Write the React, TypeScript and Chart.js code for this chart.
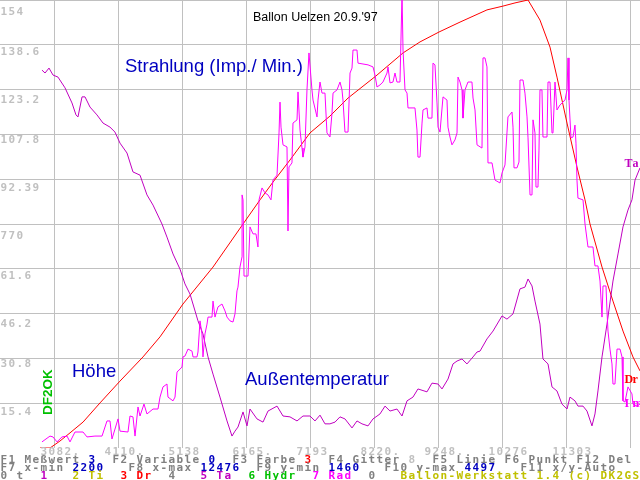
import React, { useEffect, useRef } from "react";
import { Chart, registerables } from "chart.js";

Chart.register(...registerables);

// ---------- axis ----------
const X_MIN = 2200;
const X_MAX = 12476;
const Y_MIN = 0;
const Y_MAX = 154;
const xGridValues = [3082.4, 4110, 5137.6, 6165.2, 7192.8, 8220.4, 9248, 10275.6, 11303.2, 12330.8];
const xTickLabels = ["3082.", "4110.", "5138", "6165.", "7193", "8220.", "9248.", "10276", "11303"];
const yGridValues = [15.4, 30.8, 46.2, 61.6, 77, 92.4, 107.8, 123.2, 138.6, 154];
const yTickLabels = ["15.4", "30.8", "46.2", "61.6", "770", "92.39", "107.8", "123.2", "138.6", "154"];

// ---------- series: Dr (Höhe, red) ----------
const drTime = [2842, 3003, 3163, 3324, 3533, 3806, 4127, 4496, 4769, 5138, 5620, 6102, 6375, 6583, 6856, 7177, 7498, 7788, 8237, 8671, 8944, 9249, 9586, 10019, 10276, 10469, 10678, 10870, 11031, 11143, 11304, 11464, 11593, 11673, 11866, 12042, 12203, 12363, 12476];
const drValue = [0, 0, 2.4, 5.2, 8.9, 15.5, 23.0, 31.3, 38.2, 49.5, 62.2, 77.0, 85.3, 91.4, 99.0, 108.3, 114.1, 120.3, 127.9, 135.8, 139.6, 143.0, 146.4, 150.6, 151.9, 153.0, 154.0, 147.1, 137.8, 127.5, 111.7, 96.6, 85.3, 77.0, 62.2, 50.5, 40.2, 31.3, 26.5];

// ---------- series: Ta (Außentemperatur, purple) ----------
const taTime = [2874, 2923, 2987, 3051, 3131, 3244, 3356, 3420, 3452, 3517, 3565, 3645, 3757, 3854, 3966, 4046, 4127, 4239, 4335, 4448, 4560, 4657, 4801, 4881, 4978, 5090, 5170, 5251, 5379, 5459, 5540, 5620, 5732, 5845, 5925, 5973, 6021, 6102, 6166, 6214, 6326, 6423, 6503, 6648, 6744, 6856, 6969, 7065, 7177, 7258, 7338, 7418, 7498, 7579, 7659, 7739, 7852, 7932, 8012, 8109, 8189, 8301, 8382, 8462, 8574, 8655, 8735, 8831, 8911, 9056, 9136, 9233, 9297, 9393, 9473, 9538, 9618, 9698, 9795, 9859, 9907, 10019, 10116, 10260, 10340, 10437, 10549, 10629, 10678, 10742, 10790, 10870, 10918, 10999, 11063, 11143, 11223, 11304, 11352, 11432, 11480, 11561, 11625, 11705, 11753, 11801, 11866, 11946, 12042, 12123, 12203, 12283, 12347, 12396, 12476];
const taValue = [129.9, 128.9, 130.6, 128.2, 127.5, 123.8, 118.6, 114.5, 113.8, 120.7, 120.7, 117.2, 114.5, 111.7, 110.3, 108.6, 104.8, 101.4, 94.9, 93.8, 87.0, 83.5, 77.0, 72.5, 66.7, 61.5, 56.4, 52.9, 43.7, 39.2, 31.3, 25.4, 17.5, 9.3, 4.1, 5.8, 7.2, 12.4, 7.6, 13.4, 10.0, 8.9, 12.7, 14.4, 11.0, 10.7, 9.3, 11.0, 11.0, 9.3, 11.3, 8.3, 8.3, 8.9, 10.7, 10.0, 6.9, 9.3, 8.3, 7.6, 10.0, 11.7, 14.4, 12.7, 13.4, 11.0, 16.2, 17.5, 20.3, 19.3, 22.3, 22.0, 20.3, 23.7, 28.9, 29.9, 30.6, 28.9, 31.3, 33.0, 33.3, 37.5, 40.2, 45.4, 44.3, 46.1, 54.7, 55.3, 58.1, 55.7, 50.5, 42.6, 30.6, 28.9, 21.0, 19.6, 15.1, 13.4, 17.5, 16.2, 14.4, 14.4, 12.7, 7.6, 11.7, 19.6, 31.3, 42.6, 57.4, 66.7, 76.0, 81.8, 85.3, 92.1, 96.3];

// ---------- series: Rad (Strahlung, magenta) ----------
const radTime = [2874, 3003, 3051, 3115, 3195, 3276, 3324, 3404, 3533, 3597, 3725, 3838, 3918, 3966, 3998, 4046, 4095, 4127, 4255, 4287, 4335, 4368, 4416, 4448, 4512, 4560, 4657, 4737, 4769, 4817, 4881, 4897, 4978, 5010, 5042, 5122, 5138, 5170, 5219, 5283, 5299, 5363, 5379, 5411, 5443, 5459, 5491, 5524, 5540, 5604, 5620, 5652, 5700, 5764, 5813, 5845, 5893, 5941, 5973, 6005, 6021, 6053, 6086, 6087, 6102, 6118, 6182, 6214, 6262, 6310, 6342, 6359, 6407, 6455, 6503, 6551, 6583, 6648, 6680, 6696, 6712, 6744, 6808, 6824, 6840, 6888, 6904, 6969, 6985, 7017, 7049, 7065, 7097, 7129, 7161, 7209, 7226, 7290, 7306, 7338, 7370, 7418, 7450, 7498, 7531, 7547, 7611, 7659, 7691, 7707, 7739, 7788, 7820, 7852, 7868, 7932, 7948, 8109, 8189, 8221, 8253, 8301, 8349, 8414, 8430, 8462, 8510, 8542, 8574, 8622, 8655, 8671, 8703, 8735, 8751, 8863, 8895, 8911, 8944, 8976, 8992, 9056, 9072, 9136, 9152, 9184, 9217, 9233, 9265, 9313, 9377, 9393, 9425, 9457, 9505, 9538, 9554, 9586, 9618, 9634, 9666, 9714, 9778, 9795, 9827, 9859, 9939, 9955, 9987, 10019, 10035, 10100, 10148, 10228, 10260, 10308, 10340, 10356, 10421, 10437, 10453, 10501, 10533, 10549, 10597, 10629, 10662, 10678, 10710, 10742, 10758, 10774, 10790, 10806, 10838, 10854, 10870, 10902, 10918, 10983, 10999, 11031, 11063, 11079, 11111, 11143, 11191, 11272, 11304, 11320, 11336, 11368, 11400, 11432, 11448, 11464, 11480, 11561, 11593, 11641, 11721, 11753, 11801, 11834, 11866, 11882, 11930, 11946, 11962, 11994, 12026, 12042, 12074, 12107, 12155, 12187, 12203, 12235, 12283, 12347, 12363, 12428, 12476];
const radValue = [2.1, 4.1, 3.8, 2.1, 3.8, 4.1, 2.1, 5.5, 5.5, 3.8, 4.1, 4.1, 9.3, 9.3, 3.1, 6.5, 10.0, 5.8, 5.5, 11.0, 10.7, 4.1, 14.1, 11.0, 15.1, 11.7, 13.4, 13.4, 17.5, 21.0, 22.0, 17.5, 16.2, 17.5, 26.1, 27.8, 31.3, 31.6, 34.0, 33.3, 31.3, 31.3, 33.0, 43.7, 39.2, 31.3, 39.2, 42.6, 45.0, 45.0, 50.5, 45.0, 48.5, 49.5, 47.1, 45.0, 43.7, 43.3, 46.1, 54.0, 55.3, 62.2, 65.7, 87.0, 85.3, 59.1, 59.1, 76.0, 73.6, 73.6, 69.1, 85.3, 89.4, 87.7, 87.0, 85.3, 92.1, 93.8, 108.3, 118.9, 110.3, 104.2, 103.5, 74.6, 96.6, 98.0, 111.7, 112.8, 122.4, 109.3, 103.1, 100.0, 103.5, 123.1, 135.8, 123.1, 119.6, 113.8, 119.6, 125.8, 122.0, 122.0, 108.3, 106.9, 115.2, 122.0, 123.1, 125.8, 123.1, 119.6, 108.6, 108.6, 128.9, 130.6, 136.8, 136.8, 132.3, 131.7, 131.0, 128.2, 124.1, 124.8, 125.8, 128.9, 131.0, 125.5, 125.8, 128.9, 125.8, 125.8, 156, 136.8, 123.1, 122.0, 116.9, 116.9, 109.3, 100.0, 100.0, 111.7, 116.2, 116.9, 113.4, 113.4, 132.3, 131.7, 118.6, 110.3, 108.6, 120.7, 119.6, 110.3, 106.9, 104.2, 105.9, 108.3, 127.5, 125.8, 123.1, 113.4, 123.1, 125.8, 125.8, 120.3, 116.2, 104.2, 103.1, 134.1, 134.1, 131.0, 98.0, 98.0, 92.1, 91.1, 94.5, 97.3, 108.3, 113.8, 115.5, 110.3, 96.3, 96.3, 98.3, 126.5, 126.5, 122.0, 113.8, 106.6, 87.0, 87.0, 112.8, 112.8, 108.3, 89.7, 89.7, 102.4, 123.1, 123.1, 106.9, 106.9, 125.8, 125.8, 108.3, 108.3, 125.8, 116.2, 117.9, 119.6, 123.1, 134.1, 119.6, 106.6, 106.9, 111.0, 104.8, 92.1, 85.9, 85.3, 77.0, 69.1, 69.1, 62.6, 62.6, 57.4, 45.0, 55.7, 55.7, 47.1, 40.2, 34.0, 28.9, 22.0, 22.0, 34.0, 34.0, 31.3, 16.2, 15.8, 21.0, 18.6, 15.1, 14.4, 15.1];

// ---------- texts ----------
const chartTitle = "Ballon Uelzen 20.9.'97";
const radCaption = "Strahlung (Imp./ Min.)";
const heightCaption = "Höhe";
const tempCaption = "Außentemperatur";
const callsign = "DF2OK";
const endLabels = ["Im", "Ta", "Dr"]; // same order as datasets

const C = {
  grid: "#c0c0c0",
  tick: "#c0c0c0",
  gray: "#808080",
  blue: "#0000c0",
  red: "#ff0000",
  purple: "#c000c0",
  magenta: "#ff00ff",
  olive: "#c0c000",
  green: "#00c000",
};

type Seg = [string, string];
const statusRows: Seg[][] = [
  [["F1 Meßwert ", C.gray], ["3", C.blue], ["  F2 Variable ", C.gray], ["0", C.blue], ["  F3 Farbe ", C.gray], ["3", C.red], ["  F4 Gitter ", C.gray], ["8", C.grid], ["  F5 Linie F6 Punkt F12 Del", C.gray]],
  [["F7 x-min ", C.gray], ["2200", C.blue], ["   F8 x-max ", C.gray], ["12476", C.blue], ["  F9 y-min ", C.gray], ["1460", C.blue], ["   F10 y-max ", C.gray], ["4497", C.blue], ["   F11 x/y-Auto", C.gray]],
  [["0 t  ", C.gray], ["1", C.purple], ["   ", C.gray], ["2 Ti", C.olive], ["  ", C.gray], ["3 Dr", C.red], ["  4   ", C.gray], ["5 Ta", C.purple], ["  ", C.gray], ["6 Hydr", C.green], ["  ", C.gray], ["7 Rad", C.magenta], ["  0   ", C.gray], ["Ballon-Werkstatt 1.4 (c) DK2GS", C.olive]],
];

const zip = (xs: number[], ys: number[]) => xs.map((x, i) => ({ x, y: ys[i] }));

const CELL = 8;
const MONO = 'bold 11px "DejaVu Sans Mono"';

const overlayPlugin = {
  id: "overlay",
  afterDraw(chart: any) {
    const ctx: CanvasRenderingContext2D = chart.ctx;
    const xs = chart.scales.x;
    const ys = chart.scales.y;
    ctx.save();
    ctx.textAlign = "left";
    ctx.textBaseline = "alphabetic";

    const cellText = (text: string, col: number, rowTop: number, color: string, font = MONO) => {
      ctx.font = font;
      ctx.fillStyle = color;
      for (let i = 0; i < text.length; i++) {
        ctx.fillText(text[i], (col + i) * CELL + 0.5, rowTop + 7);
      }
    };

    // y tick labels, snapped to the text-row grid
    yGridValues.forEach((v, i) => {
      const py = ys.getPixelForValue(v);
      const rowTop = (Math.floor(py / CELL) + 1) * CELL;
      cellText(yTickLabels[i], 0, rowTop, C.tick);
    });

    // x tick labels
    const xRow = Math.round(chart.chartArea.bottom / CELL) * CELL;
    xTickLabels.forEach((lab, i) => {
      const px = xs.getPixelForValue(xGridValues[i]);
      const col = Math.round((px - 15) / CELL);
      cellText(lab, col, xRow, C.tick);
    });

    // status rows
    statusRows.forEach((row, r) => {
      let col = 0;
      const top = xRow + CELL * (r + 1);
      row.forEach(([t, color]) => {
        cellText(t, col, top, color);
        col += t.length;
      });
    });

    // end-of-line labels
    const shifts = [0, 0, 1];
    chart.data.datasets.forEach((ds: any, i: number) => {
      const last = ds.data[ds.data.length - 1];
      const px = xs.getPixelForValue(last.x);
      const py = ys.getPixelForValue(last.y);
      const col = Math.floor(px / CELL) - 2;
      const rowTop = (Math.floor(py / CELL) + shifts[i]) * CELL;
      cellText(endLabels[i], col, rowTop, ds.borderColor, 'bold 12px "Liberation Serif"');
    });

    // captions
    ctx.font = '18.5px "Liberation Sans"';
    ctx.fillStyle = C.blue;
    ctx.fillText(radCaption, 125, 72);
    ctx.fillText(heightCaption, 72, 377);
    ctx.fillText(tempCaption, 245, 385);

    ctx.font = '12.5px "Liberation Sans"';
    ctx.fillStyle = "#000000";
    ctx.fillText(chartTitle, 253, 21);

    ctx.save();
    ctx.translate(52, 415);
    ctx.rotate(-Math.PI / 2);
    ctx.font = 'bold 13.5px "Liberation Sans"';
    ctx.fillStyle = C.green;
    ctx.fillText(callsign, 0, 0);
    ctx.restore();

    ctx.restore();
  },
};

export default function App() {
  const ref = useRef<HTMLCanvasElement | null>(null);

  useEffect(() => {
    if (!ref.current) return;
    const chart = new Chart(ref.current, {
      type: "line",
      data: {
        datasets: [
          { label: "Rad", data: zip(radTime, radValue), borderColor: C.magenta, borderWidth: 1, pointRadius: 0, tension: 0, fill: false },
          { label: "Ta", data: zip(taTime, taValue), borderColor: C.purple, borderWidth: 1, pointRadius: 0, tension: 0, fill: false },
          { label: "Dr", data: zip(drTime, drValue), borderColor: C.red, borderWidth: 1, pointRadius: 0, tension: 0, fill: false },
        ],
      },
      options: {
        responsive: false,
        maintainAspectRatio: false,
        animation: false,
        devicePixelRatio: 1,
        events: [],
        layout: { padding: { left: 0, right: 0, top: 0, bottom: 32 } },
        plugins: { legend: { display: false }, tooltip: { enabled: false }, title: { display: false } },
        scales: {
          x: {
            type: "linear",
            min: X_MIN,
            max: X_MAX,
            afterBuildTicks: (s: any) => { s.ticks = xGridValues.map((value) => ({ value })); },
            ticks: { display: false },
            grid: { color: C.grid, lineWidth: 1, drawTicks: false },
            border: { display: false },
          },
          y: {
            type: "linear",
            min: Y_MIN,
            max: Y_MAX,
            afterBuildTicks: (s: any) => { s.ticks = yGridValues.map((value) => ({ value })); },
            ticks: { display: false },
            grid: { color: C.grid, lineWidth: 1, drawTicks: false },
            border: { display: false },
          },
        },
      },
      plugins: [overlayPlugin],
    } as any);
    return () => chart.destroy();
  }, []);

  return (
    <div style={{ position: "fixed", left: 0, top: 0, width: 640, height: 480, background: "#ffffff" }}>
      <canvas ref={ref} width={640} height={480} style={{ display: "block", width: 640, height: 480 }} />
    </div>
  );
}
